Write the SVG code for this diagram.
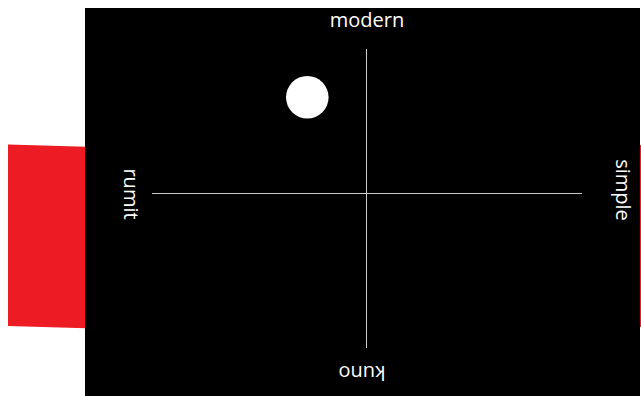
<svg xmlns="http://www.w3.org/2000/svg" width="641" height="396" viewBox="0 0 641 396">
<style>
.lbl{font-family:"Open Sans","Liberation Sans",sans-serif;font-size:20px;fill:#ffffff;text-anchor:middle}
.ax{stroke:#cccccc;stroke-width:1;fill:none}
</style>
<rect width="641" height="396" fill="#ffffff"/>
<polygon points="8,144.5 86,146.8 86,328.3 8,326" fill="#ed1c24"/>
<rect x="639" y="145" width="2" height="182" fill="#ed1c24"/>
<rect x="85" y="8" width="555" height="388" fill="#000000"/>
<g id="connectors">
<line class="ax" x1="366.5" y1="49" x2="366.5" y2="348"/>
<line class="ax" x1="152" y1="193.5" x2="582" y2="193.5"/>
</g>
<g id="marker-dot"><circle cx="307.3" cy="97.3" r="21.3" fill="#ffffff"/></g>
<g id="label-modern"><text class="lbl" x="367" y="27">modern</text></g>
<g id="label-rumit"><text class="lbl" transform="translate(124,194) rotate(90)">rumit</text></g>
<g id="label-simple"><text class="lbl" transform="translate(616,190) rotate(90)">simple</text></g>
<g id="label-kuno"><text class="lbl" transform="translate(362,366) rotate(180)">kuno</text></g>
</svg>
